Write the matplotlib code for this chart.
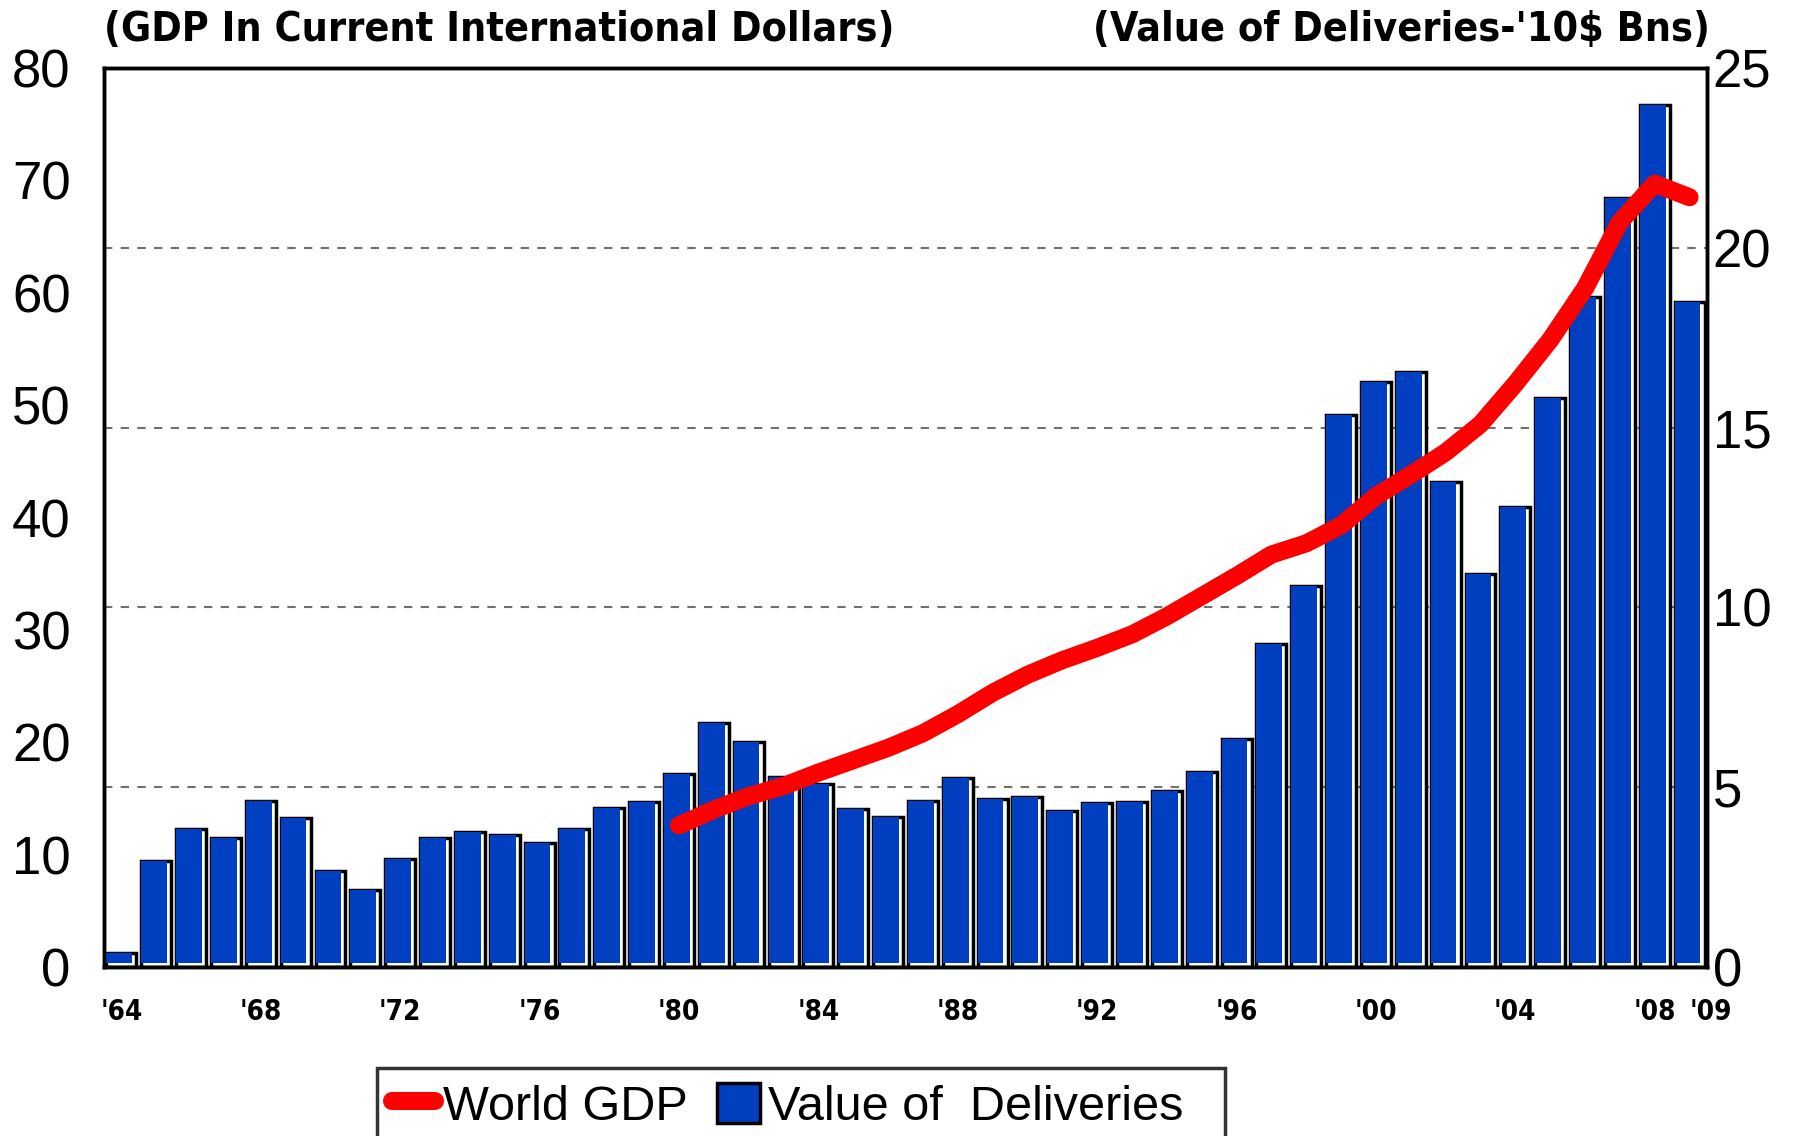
import matplotlib
matplotlib.use("Agg")
import matplotlib.pyplot as plt
import numpy as np
from matplotlib.lines import Line2D
from matplotlib.patches import Patch
from matplotlib import font_manager as fm

years = list(range(1964, 2010))
deliveries = [0.38, 2.94, 3.84, 3.59, 4.61, 4.13, 2.66, 2.14, 3.01, 3.59,
              3.75, 3.68, 3.46, 3.84, 4.42, 4.58, 5.38, 6.79, 6.27, 5.28,
              5.09, 4.39, 4.16, 4.61, 5.25, 4.67, 4.74, 4.35, 4.55, 4.58,
              4.90, 5.41, 6.34, 8.99, 10.60, 15.36, 16.26, 16.55, 13.48, 10.92,
              12.80, 15.81, 18.63, 21.38, 23.98, 18.50]
gdp_years = list(range(1980, 2010))
world_gdp = [12.6, 14.0, 15.2, 16.1, 17.3, 18.4, 19.5, 20.8, 22.5, 24.4,
             26.0, 27.3, 28.4, 29.6, 31.2, 33.0, 34.8, 36.7, 37.7, 39.3,
             41.9, 43.8, 45.8, 48.3, 51.9, 55.8, 60.4, 66.3, 69.7, 68.5]
tick_years = [1964, 1968, 1972, 1976, 1980, 1984, 1988, 1992, 1996, 2000, 2004, 2008, 2009]
tick_labels = ["'64", "'68", "'72", "'76", "'80", "'84", "'88", "'92", "'96", "'00", "'04", "'08", "'09"]

# choose a condensed bold font if one is installed
names = {f.name for f in fm.fontManager.ttflist}
cond = [f for f in fm.fontManager.ttflist
        if f.name in ('DejaVu Sans', 'DejaVu Sans Condensed') and 'ondensed' in str(f.stretch) + f.fname]
if 'Liberation Sans Narrow' in names:
    nfont = dict(family=['Liberation Sans Narrow', 'DejaVu Sans'], stretch='normal')
    title_size, xt_size = 34, 22
elif cond:
    nfont = dict(family=[cond[0].name], stretch='condensed')
    title_size, xt_size = 29.5, 20
else:
    nfont = dict(family=['Liberation Sans', 'DejaVu Sans'], stretch='normal')
    title_size, xt_size = 28, 17

regular = ['Liberation Sans', 'DejaVu Sans']
blue = '#0040C0'

fig = plt.figure(figsize=(18.05, 11.36), dpi=100)
ax = fig.add_axes([104/1805, 1-967/1136, (1707-104)/1805, (967-68)/1136])
ax2 = ax.twinx()

w = 0.86
x = np.array(years, dtype=float)
ax2.bar(x, deliveries, width=w, color='white', edgecolor='black', linewidth=2.5, zorder=2)
ax2.bar(x - w/2, np.array(deliveries) - 0.10, width=w - 0.12, bottom=0.10, align='edge',
        color=blue, edgecolor='none', zorder=3)
ax2.set_ylim(0, 25)
ax2.set_yticks([0, 5, 10, 15, 20, 25])
for g in [5, 10, 15, 20]:
    ax2.axhline(g, color='#707070', lw=1.5, ls=(0, (4, 4)), zorder=1)

ax.plot(gdp_years, world_gdp, color='#FF0000', lw=13, solid_capstyle='round',
        solid_joinstyle='round', zorder=5)
ax.set_ylim(0, 80)
ax.set_yticks(range(0, 81, 10))
ax.set_xlim(1963.5, 2009.5)
ax.set_zorder(ax2.get_zorder() + 1)
ax.patch.set_visible(False)

ax.set_xticks(tick_years)
ax.set_xticklabels(tick_labels, fontweight='bold', fontsize=xt_size, **nfont)
ax.get_xticklabels()[-1].set_horizontalalignment('left')
ax.tick_params(axis='x', length=0, pad=22)
ax.tick_params(axis='y', length=0, pad=24, labelsize=38)
ax2.tick_params(axis='y', length=0, pad=4, labelsize=38)
for lab in ax.get_yticklabels() + ax2.get_yticklabels():
    lab.set_family(regular)

for a in (ax, ax2):
    for s in a.spines.values():
        s.set_linewidth(2.5)
        s.set_color('black')

fig.text(104/1805, 1-10/1136, "(GDP In Current International Dollars)",
         fontweight='bold', fontsize=title_size, ha='left', va='top', **nfont)
fig.text(1710/1805, 1-10/1136, "(Value of Deliveries-'10$ Bns)",
         fontweight='bold', fontsize=title_size, ha='right', va='top', **nfont)

handles = [Line2D([0], [0], color='#FF0000', lw=13, solid_capstyle='round'),
           Patch(facecolor=blue, edgecolor='black', linewidth=2.5)]
leg = fig.legend(handles, ['World GDP', 'Value of  Deliveries  '], loc='upper left',
                 bbox_to_anchor=(377/1805, 1-1068/1136), ncol=2, frameon=True,
                 fancybox=False, edgecolor='black', handlelength=0.9, handleheight=0.9,
                 handletextpad=0.15, columnspacing=0.6, borderpad=0.3, borderaxespad=0,
                 prop={'family': regular, 'size': 35})
leg.get_frame().set_linewidth(2.5)

fig.savefig('out.png', dpi=100)
